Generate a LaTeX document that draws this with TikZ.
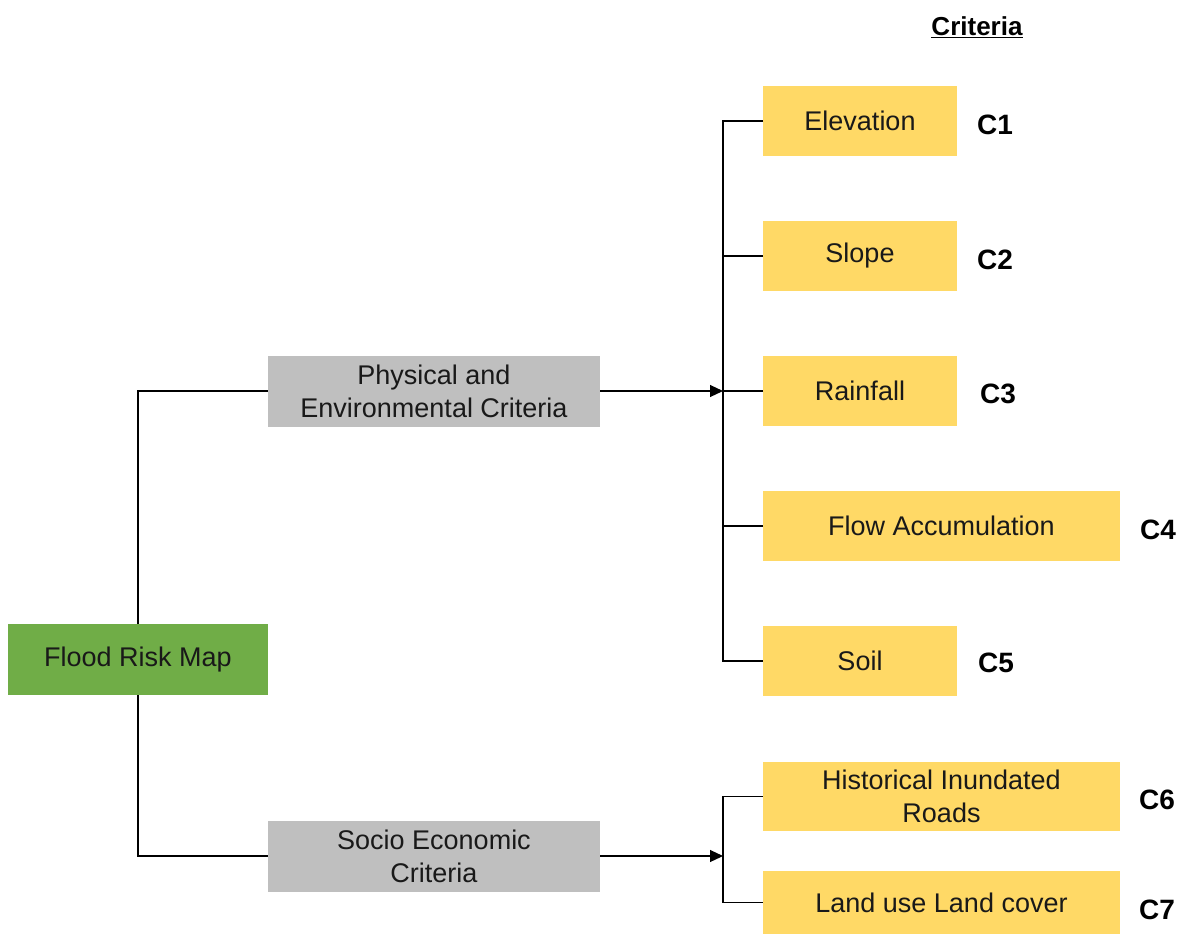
\documentclass[tikz,border=0pt]{standalone}
\usepackage{fontspec}
\setmainfont{Liberation Sans}
\usetikzlibrary{arrows.meta}
\definecolor{boxgreen}{HTML}{70AD47}
\definecolor{boxgray}{HTML}{BFBFBF}
\definecolor{boxyellow}{HTML}{FFD966}
\tikzset{
  box/.style={draw=none, inner sep=0pt, outer sep=0pt, align=center,
    font=\fontsize{27}{33}\selectfont, text=black!90},
  rootbox/.style={box, fill=boxgreen},
  catbox/.style={box, fill=boxgray},
  critbox/.style={box, fill=boxyellow},
  clabel/.style={font=\fontsize{28}{32}\selectfont\bfseries, inner sep=0pt},
  conn/.style={line width=1.1pt, black},
  arr/.style={conn, -{Triangle[length=13pt,width=12pt]}},
}
\begin{document}
\begin{tikzpicture}[x=1pt,y=-1pt]
\useasboundingbox (0,0) rectangle (1187,935);
% boxes
\node[rootbox, minimum width=260pt, minimum height=71pt] (root) at (138,659.5) {Flood Risk Map};
\node[catbox, minimum width=332pt, minimum height=71pt] (phys) at (434,391) {Physical and\\Environmental Criteria};
\node[catbox, minimum width=332pt, minimum height=71pt] (socio) at (434,856) {Socio Economic\\Criteria};
\node[critbox, minimum width=194pt, minimum height=70pt] (c1) at (860,121) {Elevation};
\node[critbox, minimum width=194pt, minimum height=70pt] (c2) at (860,256) {Slope};
\node[critbox, minimum width=194pt, minimum height=70pt] (c3) at (860,391) {Rainfall};
\node[critbox, minimum width=357pt, minimum height=70pt] (c4) at (941.5,526) {Flow Accumulation};
\node[critbox, minimum width=194pt, minimum height=70pt] (c5) at (860,661) {Soil};
\node[critbox, minimum width=357pt, minimum height=69pt] (c6) at (941.5,796.5) {Historical Inundated\\Roads};
\node[critbox, minimum width=357pt, minimum height=63pt] (c7) at (941.5,902.5) {Land use Land cover};
% labels
\node[clabel] (l1) at (995,125) {C1};
\node[clabel] (l2) at (995,260) {C2};
\node[clabel] (l3) at (998,394) {C3};
\node[clabel] (l4) at (1158,530) {C4};
\node[clabel] (l5) at (996,663) {C5};
\node[clabel] (l6) at (1157,800) {C6};
\node[clabel] (l7) at (1157,910) {C7};
\node[font=\fontsize{26}{30}\selectfont\bfseries, inner sep=0pt] (crit) at (977,27) {\underline{Criteria}};
% junction coordinates
\coordinate (j1) at (723,391);
\coordinate (j2) at (723,856);
% root connectors
\draw[conn] (root.north) |- (phys.west);
\draw[conn] (root.south) |- (socio.west);
% arrows
\draw[arr] (phys.east) -- (j1);
\draw[arr] (socio.east) -- (j2);
% trees
\draw[conn] (c1.west) -| (j1) |- (c5.west);
\draw[conn] (c2.west) -- (c2.west -| j1);
\draw[conn] (c3.west) -- (j1);
\draw[conn] (c4.west) -- (c4.west -| j1);
\draw[conn] (c6.west) -| (j2) |- (c7.west);
\end{tikzpicture}
\end{document}
